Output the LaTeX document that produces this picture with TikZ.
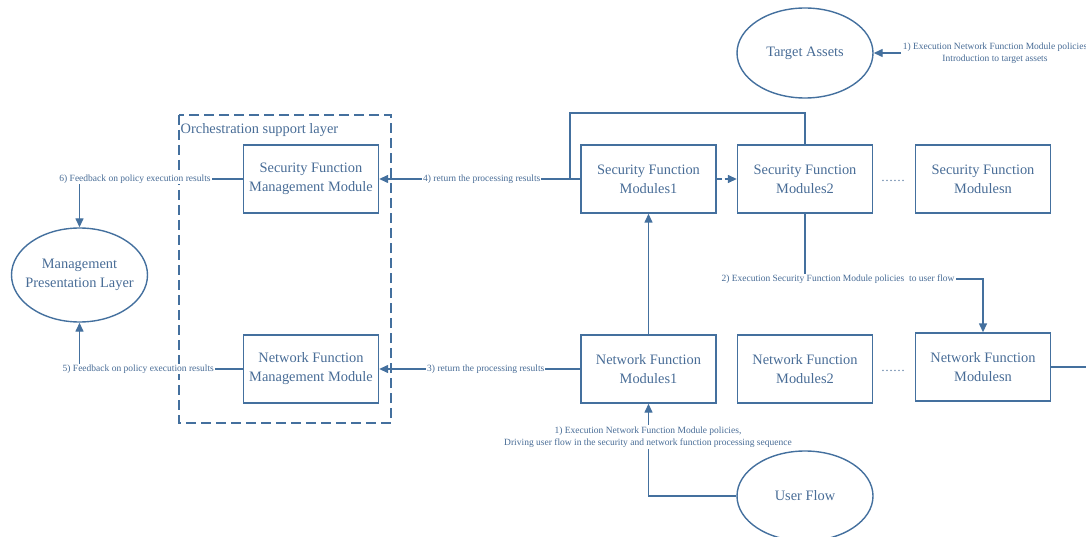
\documentclass[tikz,border=0pt]{standalone}
\usepackage{fontspec}
\setmainfont{Liberation Serif}
\usetikzlibrary{arrows.meta,shapes.geometric}
\definecolor{bl}{RGB}{68,112,158}
\definecolor{tx}{RGB}{72,108,150}
\begin{document}
\begin{tikzpicture}[x=1pt,y=-1pt,
  line width=1.4pt, draw=bl,
  box/.style={draw=bl,line width=1.4pt,minimum width=135pt,minimum height=68pt,inner sep=0pt,align=center,font=\fontsize{14.4}{19}\selectfont,text=tx},
  ell/.style={draw=bl,line width=1.4pt,ellipse,minimum width=136pt,minimum height=90pt,inner sep=0pt,align=center,font=\fontsize{14.4}{19}\selectfont,text=tx},
  lbl/.style={fill=white,inner sep=1pt,align=center,font=\fontsize{9.5}{12.5}\selectfont,text=tx},
  arr/.style={-{Triangle[length=9pt,width=8pt]},draw=bl,line width=1.4pt},
  dots/.style={text=tx,font=\fontsize{12}{12}\selectfont}]
\useasboundingbox (0,0) rectangle (1086,537);

% dashed orchestration layer
\draw[bl,line width=1.4pt,dash pattern=on 10pt off 5pt] (179,115) rectangle (391,423);
\node[anchor=west,text=tx,font=\fontsize{14.4}{16}\selectfont,inner sep=0pt] (orch) at (180,130) {Orchestration support layer};

% nodes
\node[ell] (target) at (805,53) {Target Assets};
\node[ell,minimum height=94pt,inner xsep=-7pt,inner ysep=0pt] (mpl) at (79.5,275) {Management\\Presentation Layer};
\node[ell] (user) at (805,496) {User Flow};

\node[box] (sfmm) at (311,179) {Security Function\\Management Module};
\node[box] (nfmm) at (311,369) {Network Function\\Management Module};

\node[box] (sfm1) at (648.5,179) {Security Function\\Modules1};
\node[box] (sfm2) at (805,179) {Security Function\\Modules2};
\node[box] (sfmn) at (983,179) {Security Function\\Modulesn};
\node[box] (nfm1) at (648.5,369) {Network Function\\Modules1};
\node[box] (nfm2) at (805,369) {Network Function\\Modules2};
\node[box] (nfmn) at (983,367) {Network Function\\Modulesn};

\node[dots] (d1) at (893,181) {……};
\node[dots] (d2) at (893,371) {……};

% target assets label
\node[lbl] (lt) at (995,53) {1) Execution Network Function Module policies\\Introduction to target assets};
\draw[arr] (lt.west) -- (target.east);

% security chain
\draw[arr,dash pattern=on 5pt off 3pt] (sfm1.east) -- (sfm2.west);
\coordinate (lp) at (570,179);
\draw (sfm2.north) |- (570,113) -- (lp);
\draw[arr] (sfm1.west) -- node[lbl,pos=0.49] (l4) {4) return the processing results} (sfmm.east);

% 2) from sfm2 to nfmn
\coordinate (c2) at (805,279);
\draw[arr] (sfm2.south) -- (c2) -| (nfmn.north);
\node[lbl] (l2) at (838,279) {2) Execution Security Function Module policies\ \ to user flow};

% network chain
\draw[arr] (nfm1.north) -- (sfm1.south);
\draw[arr] (nfm1.west) -- node[lbl,pos=0.47] (l3) {3) return the processing results} (nfmm.east);
\coordinate (rx) at (1090,367);
\draw (nfmn.east) -- (rx);

% user flow
\draw[arr] (user.west) -| (nfm1.south);
\node[lbl] (l1) at (648,437) {1) Execution Network Function Module policies,\\Driving user flow in the security and network function processing sequence};

% feedback
\draw[arr] (sfmm.west) -| node[lbl,pos=0.33] (l6) {6) Feedback on policy execution results} (mpl.north);
\draw[arr] (nfmm.west) -| node[lbl,pos=0.32] (l5) {5) Feedback on policy execution results} (mpl.south);
\end{tikzpicture}
\end{document}
